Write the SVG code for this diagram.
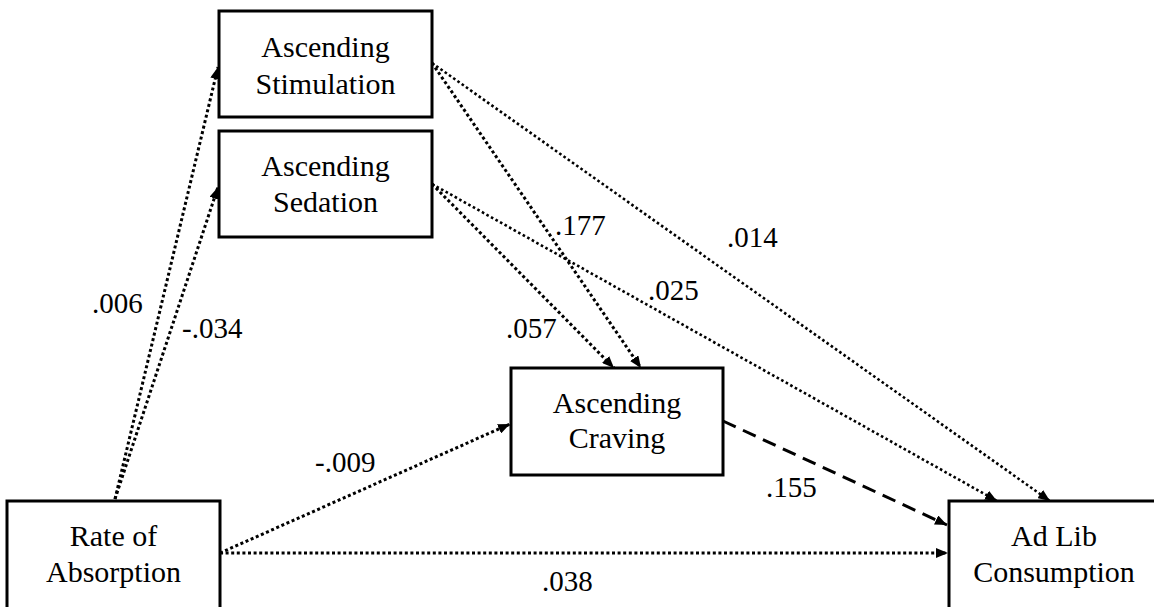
<svg xmlns="http://www.w3.org/2000/svg" width="1154" height="607" viewBox="0 0 1154 607">
<style>
.box{fill:#fff;stroke:#000;stroke-width:3}
text{font-family:'Liberation Serif','Times New Roman',Times,serif;font-size:29px;fill:#000}
.c{text-anchor:middle;font-size:30px}
.dot{fill:none;stroke:#000;stroke-width:3;stroke-dasharray:3 2.6;marker-end:url(#ah)}
.dotthin{fill:none;stroke:#000;stroke-width:2.6;stroke-dasharray:2.6 2.6;marker-end:url(#ah)}
.dash{fill:none;stroke:#000;stroke-width:3;stroke-dasharray:14 8;marker-end:url(#ah)}
</style>
<defs>
<marker id="ah" viewBox="0 0 12 10" refX="12" refY="5" markerWidth="12" markerHeight="10" markerUnits="userSpaceOnUse" orient="auto">
<path d="M0,0 L12,5 L0,10 z" fill="#000"/>
</marker>
</defs>
<rect width="1154" height="607" fill="#fff"/>
<g id="connectors">
<path class="dot" d="M115,499 L218,67"/>
<path class="dot" d="M115,499 L218,187"/>
<path class="dot" d="M432,63 L641,368"/>
<path class="dotthin" d="M432,63 L1050,501"/>
<path class="dot" d="M432,184 L614,368"/>
<path class="dotthin" d="M432,184 L997,501"/>
<path class="dot" d="M220,553 L510,424"/>
<path class="dot" d="M220,553 L948,553"/>
<path class="dash" d="M723,421 L947,525"/>
</g>
<g id="labels">
<text x="92" y="313">.006</text>
<text x="182" y="338">-.034</text>
<text x="555" y="235">.177</text>
<text x="727" y="247">.014</text>
<text x="648" y="300">.025</text>
<text x="506" y="338">.057</text>
<text x="315" y="472">-.009</text>
<text x="542" y="591">.038</text>
<text x="766" y="497">.155</text>
</g>
<g id="stimulation">
<rect class="box" x="219" y="11" width="213" height="106"/>
<text class="c" x="325.5" y="57">Ascending</text>
<text class="c" x="325.5" y="94">Stimulation</text>
</g>
<g id="sedation">
<rect class="box" x="219" y="131" width="213" height="106"/>
<text class="c" x="325.5" y="176">Ascending</text>
<text class="c" x="325.5" y="212">Sedation</text>
</g>
<g id="craving">
<rect class="box" x="511" y="368" width="212" height="107"/>
<text class="c" x="617" y="413">Ascending</text>
<text class="c" x="617" y="448">Craving</text>
</g>
<g id="rate">
<rect class="box" x="7" y="501" width="213" height="110"/>
<text class="c" x="113.5" y="546">Rate of</text>
<text class="c" x="113.5" y="582">Absorption</text>
</g>
<g id="adlib">
<rect class="box" x="949" y="501" width="212" height="110"/>
<text class="c" x="1054" y="546">Ad Lib</text>
<text class="c" x="1054" y="582">Consumption</text>
</g>
</svg>
